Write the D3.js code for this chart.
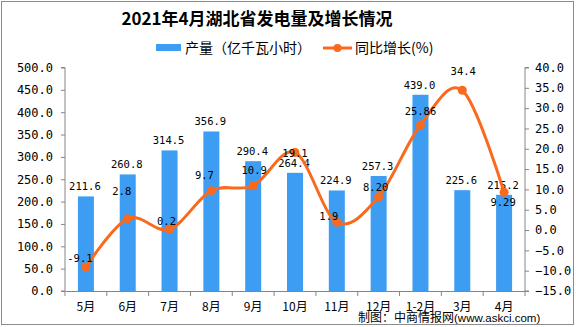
<!DOCTYPE html>
<html><head><meta charset="utf-8">
<script src="https://cdn.jsdelivr.net/npm/d3@7"></script>
<style>
html,body{margin:0;padding:0;background:#fff;}
svg{display:block;}
</style></head>
<body>
<svg id="chart" width="576" height="327"></svg>
<script>
const categories = ["5月","6月","7月","8月","9月","10月","11月","12月","1-2月","3月","4月"];
const production = [211.6, 260.8, 314.5, 356.9, 290.4, 264.4, 224.9, 257.3, 439.0, 225.6, 215.2];
const growth = [-9.1, 2.8, 0.2, 9.7, 10.9, 19.1, 1.9, 8.20, 25.86, 34.4, 9.29];
const growthLabels = ["-9.1","2.8","0.2","9.7","10.9","19.1","1.9","8.20","25.86","34.4","9.29"];
const leftTicks = [0,50,100,150,200,250,300,350,400,450,500];
const rightTicks = [-15,-10,-5,0,5,10,15,20,25,30,35,40];
const title = "2021年4月湖北省发电量及增长情况";
const legendNames = ["产量（亿千瓦小时）","同比增长(%)"];
const source = "制图：中商情报网";
const sourceUrl = "(www.askci.com)";

// label nudges (layout only)
const lineLabelDx = [-6,-6,-3,-7,1,0,-8,-3,0,1,-1];
const lineLabelDy = [-9,-27,-8,-15,-15,1,-6,-9,-14,-19,10];

const svg = d3.select("#chart");
const blue = "#3d9df2", orange = "#fa6a1e", axisCol = "#868686";
const numFont = "'DejaVu Sans Mono', monospace";
const cjkFont = "'Noto Sans CJK SC', sans-serif";

svg.append("rect").attr("x",1.5).attr("y",1.5).attr("width",572).attr("height",323)
  .attr("fill","#fff").attr("stroke","#8c8c8c").attr("stroke-width",1);

const L=65, R=525, T=67.5, B=291;
const x = d3.scaleBand().domain(categories).range([L,R]).padding(0);
const yL = d3.scaleLinear().domain([0,500]).range([B,T]);
const yR = d3.scaleLinear().domain([-15,40]).range([B,T]);

// left axis
const gL = svg.append("g").attr("transform",`translate(${L},0)`)
  .call(d3.axisLeft(yL).tickValues(leftTicks).tickFormat(d3.format(".1f")).tickSize(4).tickPadding(8));
// right axis
const gR = svg.append("g").attr("transform",`translate(${R},0)`)
  .call(d3.axisRight(yR).tickValues(rightTicks).tickFormat(d3.format(".1f")).tickSize(4).tickPadding(6));
[gL,gR].forEach(g=>{
  g.select(".domain").attr("stroke",axisCol).attr("d", g===gL ? `M-4,${T}H0V${B}H-4` : `M4,${T}H0V${B}H4`);
  g.selectAll(".tick line").attr("stroke",axisCol);
  g.selectAll("text").attr("font-family",numFont).attr("font-size",12).attr("fill","#000");
});
// x axis
const gX = svg.append("g").attr("transform",`translate(0,${B})`)
  .call(d3.axisBottom(x).tickSize(0).tickPadding(11));
gX.select(".domain").attr("stroke",axisCol);
gX.selectAll("text").attr("font-family",cjkFont).attr("font-size",12).attr("fill","#000");
gX.selectAll(".bnd").data(d3.range(categories.length+1)).enter().append("line")
  .attr("x1",i=>L+i*x.bandwidth()).attr("x2",i=>L+i*x.bandwidth())
  .attr("y1",0).attr("y2",5).attr("stroke",axisCol);

// bars
const bw = 16;
svg.append("g").selectAll("rect").data(production).enter().append("rect")
  .attr("x",(d,i)=>x(categories[i])+x.bandwidth()/2-bw/2)
  .attr("width",bw)
  .attr("y",d=>yL(d)).attr("height",d=>B-yL(d)).attr("fill",blue);
svg.append("g").selectAll("text").data(production).enter().append("text")
  .attr("x",(d,i)=>x(categories[i])+x.bandwidth()/2-1)
  .attr("y",d=>yL(d)-6)
  .attr("text-anchor","middle").attr("font-family",numFont).attr("font-size",10.5)
  .text(d=>d.toFixed(1));

// line
const pts = growth.map((d,i)=>[x(categories[i])+x.bandwidth()/2, yR(d)]);
svg.append("path").attr("d", d3.line().curve(d3.curveCardinal.tension(0))(pts))
  .attr("fill","none").attr("stroke",orange).attr("stroke-width",3);
svg.append("g").selectAll("circle").data(pts).enter().append("circle")
  .attr("cx",d=>d[0]).attr("cy",d=>d[1]).attr("r",4.5).attr("fill",orange);
svg.append("g").selectAll("text").data(growthLabels).enter().append("text")
  .attr("x",(d,i)=>pts[i][0]+lineLabelDx[i])
  .attr("y",(d,i)=>pts[i][1]+lineLabelDy[i])
  .attr("dy","0.35em")
  .attr("text-anchor","middle").attr("font-family",numFont).attr("font-size",10.5)
  .text(d=>d);

// title
svg.append("text").attr("x",257).attr("y",25).attr("text-anchor","middle")
  .attr("font-family",cjkFont).attr("font-weight","bold").attr("font-size",17).text(title);

// legend
svg.append("rect").attr("x",156).attr("y",44).attr("width",25).attr("height",7).attr("fill",blue);
svg.append("text").attr("x",185).attr("y",52.5).attr("font-family",cjkFont).attr("font-size",14).text(legendNames[0]);
svg.append("line").attr("x1",323).attr("x2",352).attr("y1",48).attr("y2",48).attr("stroke",orange).attr("stroke-width",3);
svg.append("circle").attr("cx",337.5).attr("cy",48).attr("r",4).attr("fill",orange);
svg.append("text").attr("x",355).attr("y",52.5).attr("font-family",cjkFont).attr("font-size",14).text(legendNames[1]);

// source
const src = svg.append("text").attr("x",358).attr("y",322).attr("font-size",12);
src.append("tspan").attr("font-family",cjkFont).text(source);
src.append("tspan").attr("font-family","'Liberation Sans', Arial, sans-serif").attr("font-size",11.5).text(sourceUrl);
</script>
</body></html>
